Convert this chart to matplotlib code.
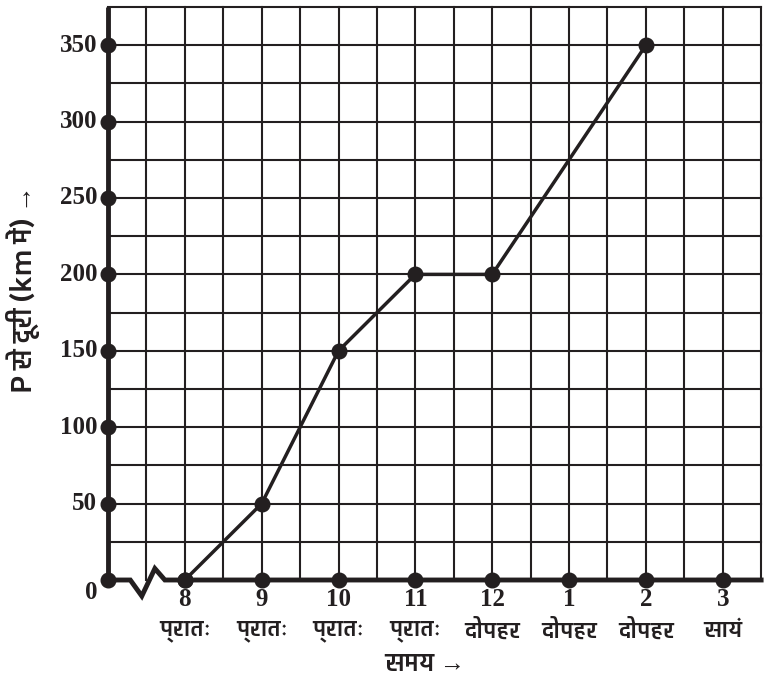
"""
Distance from P against time graph (grid paper style).
"""

import matplotlib
matplotlib.use("Agg")
import matplotlib.pyplot as plt
from matplotlib import font_manager
from matplotlib.ft2font import FT2Font
import numpy as np

# ---- data ----
hour_labels = ["8", "9", "10", "11", "12", "1", "2", "3"]
period_labels = ["प्रातः", "प्रातः", "प्रातः", "प्रातः", "दोपहर", "दोपहर", "दोपहर", "सायं"]
y_ticks = [0, 50, 100, 150, 200, 250, 300, 350]
trip_hours = ["8", "9", "10", "11", "12", "2"]
trip_dist = [0, 50, 150, 200, 200, 350]

x_title = "समय →"
y_title = "P से दूरी (km में) →"

INK = "#231f20"


def find_devanagari_font():
    """Return the name of an installed font that has Devanagari glyphs, bold if possible."""
    found = []
    for f in font_manager.fontManager.ttflist:
        try:
            cmap = FT2Font(f.fname).get_charmap()
        except Exception:
            continue
        if ord("प") in cmap and ord("र") in cmap:
            found.append(f)
    if not found:
        return None
    found.sort(key=lambda f: -int(f.weight) if str(f.weight).isdigit() else 0)
    return found[0].name


deva = find_devanagari_font()
hindi_family = ([deva] if deva else []) + ["Liberation Serif", "DejaVu Sans"]

fig = plt.figure(figsize=(7.67, 6.81), dpi=100)
ax = fig.add_axes([0, 0, 1, 1])
# map data coords so the grid sits where it does in the page
ax.set_xlim(-108 / 76.84, (767 - 108) / 76.84)
ax.set_ylim(-(681 - 580) / 1.528, 580 / 1.528)
ax.axis("off")

x_pos = {h: i + 1 for i, h in enumerate(hour_labels)}
x_max, y_max = 8.5, 375

# grid
for gx in np.arange(0.5, x_max + 0.01, 0.5):
    ax.plot([gx, gx], [0, y_max], color=INK, lw=1.5, solid_capstyle="projecting")
for gy in np.arange(25, y_max + 1, 25):
    ax.plot([0, x_max], [gy, gy], color=INK, lw=1.5, solid_capstyle="projecting")

# axes (with break on the time axis)
ax.plot([0, 0], [0, y_max], color=INK, lw=3.5, solid_capstyle="butt")
ax.plot([0, 0.29, 0.44, 0.61, 0.74, x_max], [0, 0, -10.5, 7.5, 0, 0],
        color=INK, lw=3.5, solid_joinstyle="miter")

# tick dots
ax.plot([0] * len(y_ticks), y_ticks, "o", color=INK, ms=10.5, zorder=5)
ax.plot([x_pos[h] for h in hour_labels], [0] * len(hour_labels), "o",
        color=INK, ms=10.5, zorder=5)

# trip
tx = [x_pos[h] for h in trip_hours]
ax.plot(tx, trip_dist, "-o", color=INK, lw=2.5, ms=10.5, zorder=6)

# labels
serif = dict(family="Liberation Serif", fontweight="bold", color=INK)
for v in y_ticks:
    yy = -8.5 if v == 0 else v
    ax.text(-0.143, yy, str(v), ha="right", va="center", fontsize=18, **serif)
for h in hour_labels:
    ax.text(x_pos[h], -13, h, ha="center", va="center", fontsize=18, **serif)
for h, p in zip(hour_labels, period_labels):
    ax.text(x_pos[h], -33, p, ha="center", va="center", fontsize=16.5,
            fontweight="bold", family=hindi_family, color=INK)
ax.text(4.125, -54, x_title, ha="center", va="center", fontsize=18,
        fontweight="bold", family=hindi_family, color=INK)
ax.text(-1.1, 190, y_title, ha="center", va="center", rotation=90,
        fontsize=19, fontweight="bold", family=hindi_family, color=INK)

fig.savefig("out.png", dpi=100)
